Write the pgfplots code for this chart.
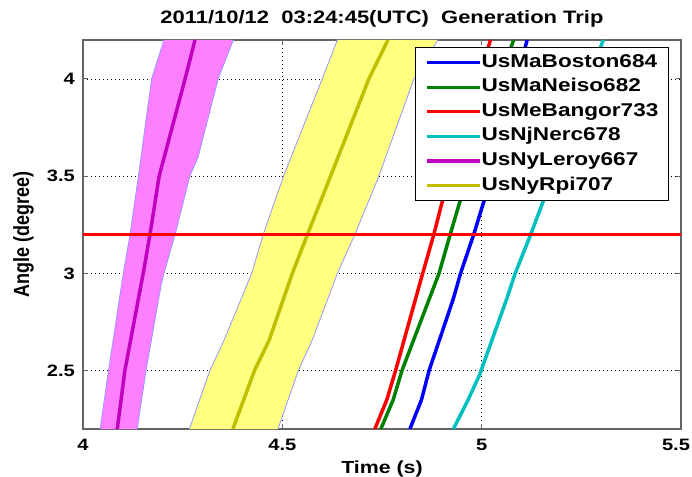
\documentclass[border=0pt]{standalone}
\usepackage{fontspec}
\setmainfont{Liberation Sans}[FakeStretch=1.22]
\newfontfamily\ylfont{Liberation Sans}
\usepackage{pgfplots}
\pgfplotsset{compat=1.18}
\definecolor{mblue}{RGB}{0,0,255}
\definecolor{mgreen}{RGB}{0,128,0}
\definecolor{mred}{RGB}{255,0,0}
\definecolor{mcyan}{RGB}{0,191,191}
\definecolor{mmag}{RGB}{191,0,191}
\definecolor{molive}{RGB}{191,191,0}
\definecolor{magfill}{RGB}{255,128,255}
\definecolor{yelfill}{RGB}{255,255,128}
\definecolor{edgecol}{RGB}{150,150,255}
\definecolor{axgray}{RGB}{100,100,100}
\begin{document}
\begin{tikzpicture}
\useasboundingbox (-83pt,-47pt) rectangle (609pt,429pt);
\begin{axis}[
  width=598pt, height=389pt, scale only axis,
  xmin=4, xmax=5.5, ymin=2.2, ymax=4.2,
  xtick={4,4.5,5,5.5}, ytick={2.5,3,3.5,4},
  xticklabels={4,4.5,5,\hspace*{-10pt}5.5},
  /pgf/number format/assume math mode=true,
  tick label style={font=\fontsize{16.5}{16.5}\selectfont\bfseries},
  xticklabel style={anchor=north, inner sep=0pt, yshift=-10pt},
  yticklabel style={anchor=east, inner sep=0pt, xshift=-8pt},
  tick align=inside, major tick length=5pt,
  tick style={axgray, line width=0.8pt},
  axis line style={axgray, line width=1.3pt},
  grid=major,
  major grid style={black, line width=0.6pt, dash pattern=on 1pt off 3pt},
  title={2011/10/12\ \ 03:24:45(UTC)\ \ Generation Trip},
  title style={at={(axis description cs:0.5,1.018)}, anchor=south, inner sep=0pt, font=\fontsize{18}{18}\selectfont\bfseries},
  xlabel={Time (s)},
  xlabel style={at={(axis description cs:0.5,-0.08)}, anchor=north, inner sep=0pt, font=\fontsize{17.5}{17.5}\selectfont\bfseries},
  ylabel={\scalebox{1}[1.22]{\ylfont\bfseries Angle (degree)}},
  ylabel style={at={(axis description cs:-0.082,0.5)}, anchor=south, rotate=0, inner sep=0pt, font=\fontsize{18}{18}\selectfont},
  legend cell align=left,
  legend image code/.code={\draw[#1, line width=3.3pt] (0pt,0pt) -- (53pt,0pt);},
  legend style={at={(1,1)}, anchor=north east, xshift=-12pt, yshift=-7pt,
    draw=black, line width=1.2pt, fill=white,
    font=\fontsize{18.5}{18.5}\selectfont\bfseries,
    nodes={inner sep=0pt, text height=13.5pt, text depth=4.5pt},
    inner xsep=10pt, inner ysep=6pt, row sep=6.6pt,
    /tikz/every even column/.append style={column sep=7pt}},
]
% bands
\addplot[fill=magfill, draw=none, forget plot] coordinates {
(4.043,2.2) (4.064,2.5) (4.101,3.0) (4.118,3.2) (4.139,3.5) (4.172,4.0) (4.203,4.2)
(4.377,4.2) (4.339,4.0) (4.289,3.6) (4.268,3.5) (4.231,3.2) (4.203,3.0) (4.196,2.94) (4.158,2.5) (4.136,2.2)} -- cycle;
\addplot[edgecol, line width=0.8pt, forget plot] coordinates {
(4.043,2.2) (4.064,2.5) (4.101,3.0) (4.118,3.2) (4.139,3.5) (4.172,4.0) (4.203,4.2)};
\addplot[edgecol, line width=0.8pt, forget plot] coordinates {
(4.136,2.2) (4.158,2.5) (4.196,2.94) (4.203,3.0) (4.231,3.2) (4.268,3.5) (4.289,3.6) (4.339,4.0) (4.377,4.2)};
\addplot[fill=yelfill, draw=none, forget plot] coordinates {
(4.267,2.2) (4.318,2.5) (4.354,2.657) (4.423,3.0) (4.452,3.2) (4.503,3.5) (4.600,4.0) (4.638,4.2)
(4.890,4.2) (4.830,4.0) (4.742,3.5) (4.682,3.2) (4.638,3.0) (4.575,2.657) (4.540,2.5) (4.489,2.2)} -- cycle;
\addplot[edgecol, line width=0.8pt, forget plot] coordinates {
(4.267,2.2) (4.318,2.5) (4.354,2.657) (4.423,3.0) (4.452,3.2) (4.503,3.5) (4.600,4.0) (4.638,4.2)};
\addplot[edgecol, line width=0.8pt, forget plot] coordinates {
(4.489,2.2) (4.540,2.5) (4.575,2.657) (4.638,3.0) (4.682,3.2) (4.742,3.5) (4.830,4.0) (4.890,4.2)};
% lines
\addplot[mblue, line width=3.5pt] coordinates {
(4.820,2.2) (4.849,2.35) (4.868,2.5) (4.929,2.87) (4.947,3.0) (4.980,3.2) (5.007,3.38) (5.114,4.2)};
\addlegendentry{UsMaBoston684}
\addplot[mgreen, line width=3.5pt] coordinates {
(4.747,2.2) (4.778,2.35) (4.800,2.5) (4.893,3.0) (4.921,3.2) (4.947,3.38) (5.080,4.2)};
\addlegendentry{UsMaNeiso682}
\addplot[mred, line width=3.5pt] coordinates {
(4.732,2.2) (4.762,2.35) (4.784,2.5) (4.852,3.0) (4.880,3.2) (4.900,3.36) (5.022,4.2)};
\addlegendentry{UsMeBangor733}
\addplot[mcyan, line width=3.5pt] coordinates {
(4.929,2.2) (4.966,2.35) (4.995,2.48) (5.063,2.87) (5.084,3.0) (5.123,3.2) (5.156,3.38) (5.305,4.2)};
\addlegendentry{UsNjNerc678}
\addplot[mmag, line width=3.5pt] coordinates {
(4.086,2.2) (4.105,2.5) (4.151,3.0) (4.168,3.2) (4.191,3.5) (4.256,4.0) (4.281,4.2)};
\addlegendentry{UsNyLeroy667}
\addplot[molive, line width=3.5pt] coordinates {
(4.376,2.2) (4.430,2.5) (4.467,2.657) (4.525,3.0) (4.563,3.2) (4.621,3.5) (4.717,4.0) (4.765,4.2)};
\addlegendentry{UsNyRpi707}
% threshold
\addplot[mred, line width=3.8pt, forget plot] coordinates {(4,3.2) (5.5,3.2)};
\end{axis}
\end{tikzpicture}
\end{document}
